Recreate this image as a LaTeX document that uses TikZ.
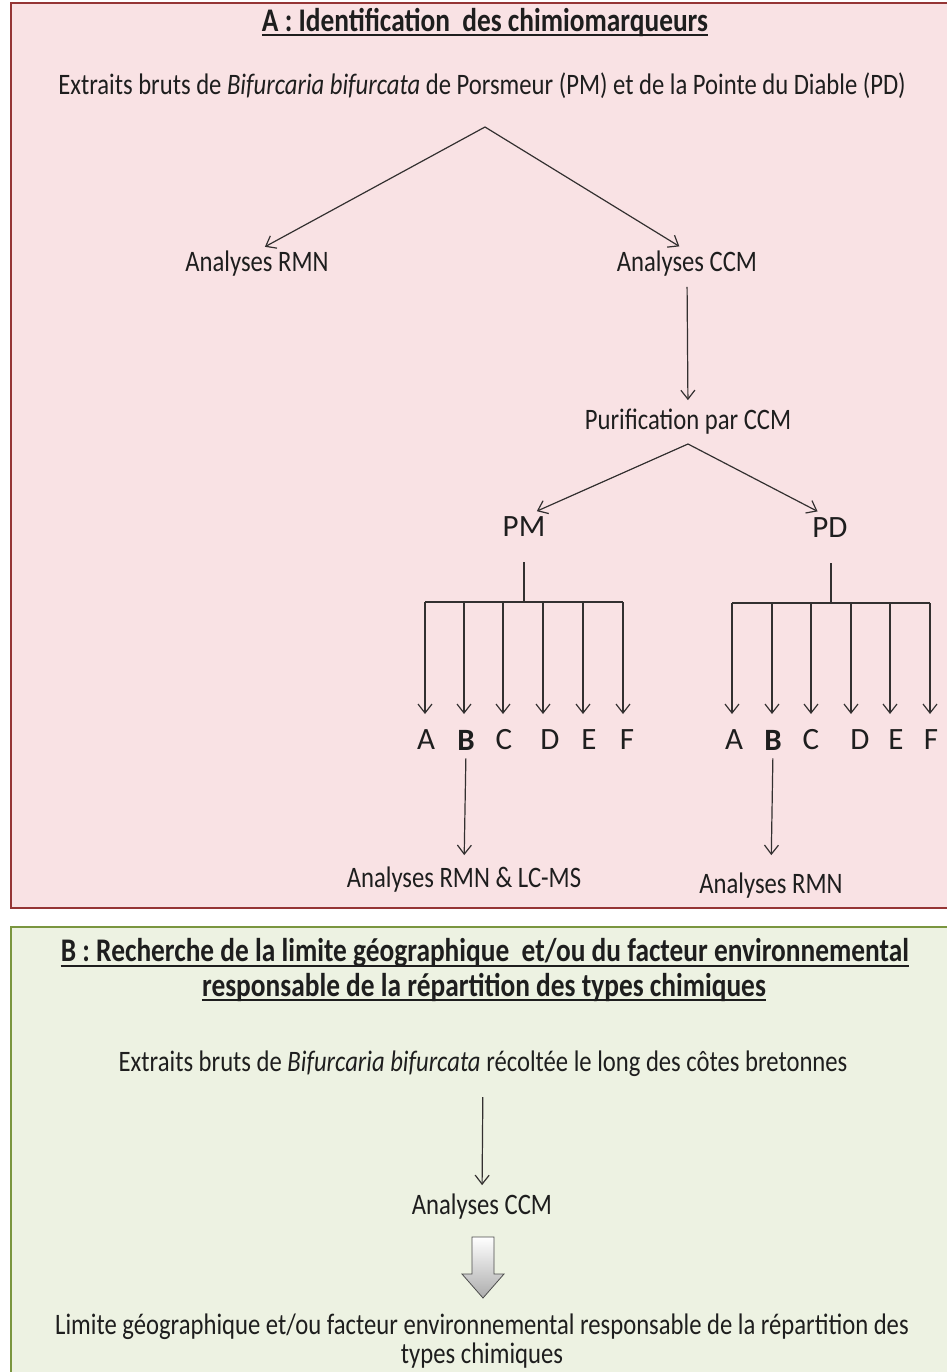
\documentclass[tikz,border=0pt]{standalone}
\usepackage{fontspec}
\setmainfont[FakeStretch=0.83]{Carlito}
\newfontfamily\wide{Carlito}
\usetikzlibrary{arrows.meta}
\definecolor{pinkfill}{HTML}{F9E2E4}
\definecolor{pinkline}{HTML}{953535}
\definecolor{greenfill}{HTML}{EDF2E2}
\definecolor{greenline}{HTML}{7A963F}
\definecolor{ink}{HTML}{1E1E1E}
\definecolor{arrink}{HTML}{333030}
\begin{document}
\begin{tikzpicture}[x=1pt,y=-1pt,
  txt/.style={font=\fontsize{29.7}{34}\selectfont, inner sep=0pt, text=ink, align=center},
  ttl/.style={font=\bfseries\fontsize{33}{38}\selectfont, inner sep=0pt, text=ink},
  big/.style={font=\wide\fontsize{31}{36}\selectfont, inner sep=0pt, text=ink},
  arr/.style={-{Straight Barb[length=9pt,width=14pt]}, line width=1.2pt, draw=arrink},
  ln/.style={line width=1.2pt, draw=arrink},
  ul/.style={line width=1.8pt, draw=ink}]
\useasboundingbox (0,0) rectangle (946,1372);
% boxes
\fill[white] (0,0) rectangle (946,1372);
\draw[fill=pinkfill, draw=pinkline, line width=2.5pt] (11,3) rectangle (960,908);
\draw[fill=greenfill, draw=greenline, line width=2.5pt] (11,927) rectangle (960,1390);
% part A
\node[ttl] (tA) at (485,22) {A : Identification\ \ des chimiomarqueurs};
\draw[ul] ([yshift=-4pt]tA.base west) -- ([yshift=-4pt]tA.base east);
\node[txt] (ext) at (482,86) {Extraits bruts de \textit{Bifurcaria bifurcata} de Porsmeur (PM) et de la Pointe du Diable (PD)};
\coordinate (ap1) at (485,127);
\node[txt] (rmn1) at (257,264) {Analyses RMN};
\node[txt] (ccm1) at (687,264) {Analyses CCM};
\draw[arr, shorten >=9pt] (ap1) -- (rmn1.north);
\draw[arr, shorten >=9pt] (ap1) -- (ccm1.north);
\node[txt] (pur) at (688,422) {Purification par CCM};
\draw[arr, shorten <=10pt, shorten >=9pt] (ccm1.south) -- (pur.north);
\coordinate (ap2) at (688,444);
\node[big] (pm) at (524,527) {PM};
\node[big] (pd) at (830,528) {PD};
\draw[arr, shorten >=14pt] (ap2) -- (pm.north);
\draw[arr, shorten >=14pt] (ap2) -- (pd.north);
% PM tree
\coordinate (s1) at (524,562);
\coordinate (b1) at (524,602);
\draw[ln] (s1) -- (b1);
\draw[ln] (425,602) -- (623,602);
\foreach \ax/\lx/\l/\n in {425/426/A/a, 464/466/\textbf{B}/b, 503/504/C/c, 543/550/D/d, 583/589/E/e, 623/627/F/f}{
  \node[big] (p\n) at (\lx,740) {\l};
  \coordinate (pt\n) at (\ax,602);
  \draw[arr] (pt\n) -- (\ax,714);
}
% PD tree
\coordinate (s2) at (831,563);
\coordinate (b2) at (831,603);
\draw[ln] (s2) -- (b2);
\draw[ln] (732,603) -- (930,603);
\foreach \ax/\lx/\l/\n in {732/734/A/a, 772/773/\textbf{B}/b, 811/811/C/c, 851/860/D/d, 890/896/E/e, 930/931/F/f}{
  \node[big] (q\n) at (\lx,740) {\l};
  \coordinate (qt\n) at (\ax,603);
  \draw[arr] (qt\n) -- (\ax,714);
}
\node[txt] (res1) at (464,880) {Analyses RMN \& LC-MS};
\node[txt] (res2) at (771,886) {Analyses RMN};
\draw[arr, shorten <=8pt, shorten >=12pt] (pb.south) -- (res1.north);
\draw[arr, shorten <=8pt, shorten >=18pt] (qb.south) -- (res2.north);
% part B
\node[ttl] (tB1) at (485,953) {B : Recherche de la limite géographique\ \ et/ou du facteur environnemental};
\draw[ul] ([yshift=-4pt]tB1.base west) -- ([yshift=-4pt]tB1.base east);
\node[ttl] (tB2) at (484,987) {responsable de la répartition des types chimiques};
\draw[ul] ([yshift=-4pt]tB2.base west) -- ([yshift=-4pt]tB2.base east);
\node[txt] (ext2) at (483,1064) {Extraits bruts de \textit{Bifurcaria bifurcata} récoltée le long des côtes bretonnes};
\node[txt] (ccm2) at (482,1207) {Analyses CCM};
\draw[arr, shorten <=20pt, shorten >=9pt] (ext2.south) -- (ccm2.north);
\shade[top color=white, bottom color=gray!65, draw=gray!60!black, line width=0.8pt]
  (472,1237) -- (494,1237) -- (494,1274) -- (504,1274) -- (483,1298) -- (462,1274) -- (472,1274) -- cycle;
\node[txt] (lim1) at (482,1327) {Limite géographique et/ou facteur environnemental responsable de la répartition des};
\node[txt] (lim2) at (482,1356) {types chimiques};
\end{tikzpicture}
\end{document}
